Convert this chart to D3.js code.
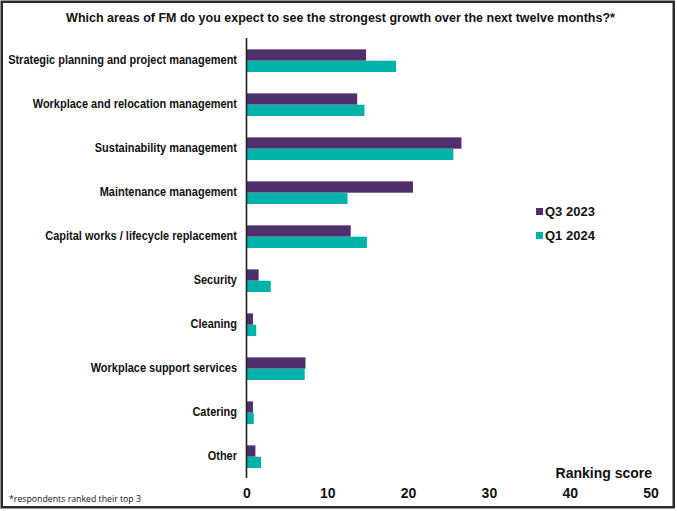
<!DOCTYPE html>
<html>
<head>
<meta charset="utf-8">
<script src="https://cdn.jsdelivr.net/npm/d3@7"></script>
<style>
  html, body { margin: 0; padding: 0; background: #fff; }
  svg { display: block; }
  text { font-family: "Liberation Sans", Arial, sans-serif; fill: #111; }
</style>
</head>
<body>
<svg id="chart" width="677" height="511"></svg>
<script>
// Survey categories, top to bottom
const categories = [
  "Strategic planning and project management",
  "Workplace and relocation management",
  "Sustainability management",
  "Maintenance management",
  "Capital works / lifecycle replacement",
  "Security",
  "Cleaning",
  "Workplace support services",
  "Catering",
  "Other"
];
const seriesNames = ["Q3 2023", "Q1 2024"];
const q3_2023 = [14.8, 13.7, 26.6, 20.6, 12.9, 1.5, 0.8, 7.3, 0.8, 1.1];
const q1_2024 = [18.5, 14.6, 25.6, 12.5, 14.9, 3.0, 1.2, 7.2, 0.9, 1.8];
const xTicks = [0, 10, 20, 30, 40, 50];

const colors = { "Q3 2023": "#4f2f6c", "Q1 2024": "#00b2aa" };

const svg = d3.select("#chart");
const W = 677, H = 511;

// outer frame
svg.append("rect")
  .attr("x", 1.75).attr("y", 1.75)
  .attr("width", W - 5).attr("height", H - 5.5)
  .attr("fill", "#fff").attr("stroke", "#2a2a2a").attr("stroke-width", 2.5);

const x = d3.scaleLinear().domain([0, 50]).range([246.5, 650.5]);
const y = d3.scaleBand().domain(categories).range([38.7, 478.7])
  .paddingInner(0.485).paddingOuter(0.2425);
const ySub = d3.scaleBand().domain(seriesNames).range([0, y.bandwidth()]);

// squeeze text horizontally to a target width, keeping its anchor point
function squeeze(sel, factor, anchorX) {
  sel.attr("transform", `translate(${anchorX},0) scale(${factor},1) translate(${-anchorX},0)`);
}

// title
const title = svg.append("text")
  .attr("x", 340.5).attr("y", 17).attr("dy", "0.35em")
  .attr("text-anchor", "middle")
  .style("font-weight", "bold").style("font-size", "13.5px")
  .text("Which areas of FM do you expect to see the strongest growth over the next twelve months?*");
{
  const w = title.node().getComputedTextLength();
  squeeze(title, 549 / w, 340.5);
}

// bars
const rows = categories.map((c, i) => ({ cat: c, vals: [
  { s: "Q3 2023", v: q3_2023[i] },
  { s: "Q1 2024", v: q1_2024[i] }
]}));

const g = svg.append("g");
g.selectAll("g.row").data(rows).join("g")
  .attr("class", "row")
  .attr("transform", d => `translate(0,${y(d.cat)})`)
  .selectAll("rect").data(d => d.vals).join("rect")
  .attr("x", x(0))
  .attr("y", d => ySub(d.s))
  .attr("width", d => x(d.v) - x(0))
  .attr("height", ySub.bandwidth())
  .attr("fill", d => colors[d.s]);

// vertical axis line
svg.append("line")
  .attr("x1", x(0)).attr("x2", x(0))
  .attr("y1", 38).attr("y2", 478)
  .attr("stroke", "#222").attr("stroke-width", 1.6);

// category labels
const labels = svg.append("g").selectAll("text").data(categories).join("text")
  .attr("x", 237).attr("y", d => y(d) + y.bandwidth() / 2 - 0.5).attr("dy", "0.35em")
  .attr("text-anchor", "end")
  .style("font-weight", "bold").style("font-size", "12px")
  .text(d => d);
{
  const w = labels.filter((d, i) => i === 0).node().getComputedTextLength();
  squeeze(labels, 229 / w, 237);
}

// x-axis tick labels
const xAxis = d3.axisBottom(x).tickValues(xTicks).tickSize(0).tickPadding(0);
const ax = svg.append("g").attr("transform", "translate(0,488)").call(xAxis);
ax.select(".domain").remove();
ax.selectAll("text")
  .style("font-family", "'Liberation Sans', Arial, sans-serif")
  .style("font-weight", "bold").style("font-size", "14px")
  .attr("fill", "#111");

// axis title
svg.append("text")
  .attr("x", 652).attr("y", 473).attr("dy", "0.35em")
  .attr("text-anchor", "end")
  .style("font-weight", "bold").style("font-size", "14px")
  .text("Ranking score");

// legend
const legend = svg.append("g").selectAll("g").data(seriesNames).join("g")
  .attr("transform", (d, i) => `translate(536,${211.5 + i * 24})`);
legend.append("rect")
  .attr("x", 0).attr("y", -3.5).attr("width", 7).attr("height", 7)
  .attr("fill", d => colors[d]);
legend.append("text")
  .attr("x", 9).attr("y", 0).attr("dy", "0.35em")
  .style("font-weight", "bold").style("font-size", "13px")
  .text(d => d);

// footnote
svg.append("text")
  .attr("x", 9).attr("y", 499).attr("dy", "0.35em")
  .style("font-family", "'Open Sans', 'Noto Sans', sans-serif")
  .style("font-size", "9.5px")
  .attr("textLength", 132).attr("lengthAdjust", "spacingAndGlyphs")
  .text("*respondents ranked their top 3");
</script>
</body>
</html>
